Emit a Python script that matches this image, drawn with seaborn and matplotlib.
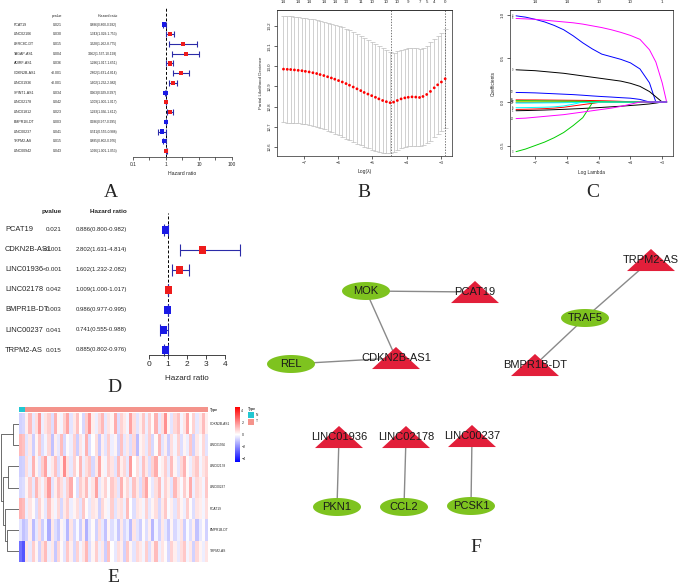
import numpy as np
import pandas as pd
import matplotlib
matplotlib.use("Agg")
import matplotlib.pyplot as plt
import seaborn as sns
from matplotlib.colors import LinearSegmentedColormap, ListedColormap
from matplotlib.patches import Rectangle
from matplotlib.path import Path
from matplotlib.transforms import blended_transform_factory

W, H = 679, 585

# ── A: univariate cox ──
a_genes = ["PCAT19", "LINC02106", "LRRC8C-DT", "TAGAP-AS1", "ADIRF-AS1", "CDKN2B-AS1", "LINC01936",
           "SPINT1-AS1", "LINC02178", "LINC01812", "BMPR1B-DT", "LINC00237", "TRPM2-AS", "LINC00942"]
a_pvals = ["0.021", "0.030", "0.015", "0.004", "0.036", "<0.001", "<0.001",
           "0.034", "0.042", "0.023", "0.003", "0.041", "0.015", "0.043"]
a_hr = [0.886, 1.343, 3.328, 3.962, 1.296, 2.802, 1.602, 0.963, 1.009, 1.293, 0.986, 0.741, 0.885, 1.026]
a_lo = [0.800, 1.029, 1.262, 1.537, 1.017, 1.631, 1.232, 0.929, 1.000, 1.036, 0.977, 0.555, 0.802, 1.001]
a_hi = [0.982, 1.753, 8.775, 10.198, 1.651, 4.814, 2.082, 0.997, 1.017, 1.612, 0.995, 0.988, 0.976, 1.053]

# ── B: cv curve ──
b_loglam = [-7.60, -7.49, -7.39, -7.28, -7.17, -7.06, -6.96, -6.85, -6.74, -6.63, -6.53, -6.42, -6.31,
            -6.20, -6.10, -5.99, -5.88, -5.77, -5.67, -5.56, -5.45, -5.34, -5.24, -5.13, -5.02, -4.91,
            -4.81, -4.70, -4.59, -4.48, -4.38, -4.27, -4.16, -4.05, -3.95, -3.84, -3.73, -3.62, -3.52,
            -3.41, -3.30, -3.19, -3.09, -2.98, -2.87]
b_dev = [12.986, 12.985, 12.984, 12.982, 12.980, 12.978, 12.975, 12.972, 12.968, 12.964, 12.959,
         12.954, 12.948, 12.942, 12.936, 12.929, 12.922, 12.914, 12.906, 12.897, 12.888, 12.879,
         12.870, 12.862, 12.854, 12.846, 12.838, 12.830, 12.824, 12.819, 12.822, 12.830, 12.838,
         12.843, 12.846, 12.848, 12.847, 12.845, 12.850, 12.860, 12.875, 12.893, 12.908, 12.922, 12.938]
b_se = [0.265, 0.265, 0.265, 0.264, 0.264, 0.263, 0.263,
        0.264, 0.265, 0.266, 0.267, 0.268, 0.269, 0.270, 0.271,
        0.272, 0.272, 0.273, 0.273, 0.273, 0.272, 0.272, 0.271, 0.270, 0.268,
        0.266, 0.263, 0.259, 0.255, 0.250, 0.246, 0.245, 0.245, 0.244,
        0.244, 0.244, 0.243, 0.243, 0.243, 0.243, 0.244, 0.245, 0.245, 0.246, 0.247]
b_top_idx = [0, 4, 7, 11, 14, 17, 21, 24, 28, 31, 34, 37, 39, 41, 44]
b_top_df = [14, 14, 14, 14, 14, 13, 11, 10, 10, 10, 9, 7, 5, 4, 0]
b_lam_min, b_lam_1se = -4.45, -2.87

# ── C: coefficient paths ──
c_loglam = [-7.6, -7.3, -7.0, -6.7, -6.4, -6.1, -5.8, -5.5, -5.2, -4.9, -4.6, -4.3, -4.0, -3.7, -3.4, -3.2, -3.0, -2.86]
c_coef = {
    1: [-0.10, -0.098, -0.095, -0.092, -0.088, -0.084, -0.079, -0.074, -0.068, -0.062, -0.055, -0.048, -0.040, -0.032, -0.022, -0.012, 0, 0],
    2: [-0.085, -0.083, -0.080, -0.076, -0.070, -0.060, -0.045, -0.030, -0.015, 0, 0, 0, 0, 0, 0, 0, 0, 0],
    3: [-0.57, -0.54, -0.50, -0.46, -0.41, -0.35, -0.27, -0.18, -0.01, 0, 0, 0, 0, 0, 0, 0, 0, 0],
    4: [0.99, 0.975, 0.95, 0.92, 0.88, 0.83, 0.76, 0.68, 0.61, 0.55, 0.52, 0.49, 0.45, 0.38, 0.22, 0, 0, 0],
    5: [-0.065, -0.064, -0.062, -0.060, -0.055, -0.045, -0.025, 0, 0, 0, 0, 0, 0, 0, 0, 0, 0, 0],
    6: [0.96, 0.955, 0.95, 0.94, 0.93, 0.92, 0.91, 0.895, 0.875, 0.855, 0.83, 0.80, 0.765, 0.72, 0.60, 0.46, 0.22, 0],
    7: [0.005, 0.005, 0.004, 0.004, 0.003, 0.003, 0.002, 0.001, 0, 0, 0, 0, 0, 0, 0, 0, 0, 0],
    8: [-0.004, -0.004, -0.004, -0.003, -0.003, -0.002, -0.002, -0.001, 0, 0, 0, 0, 0, 0, 0, 0, 0, 0],
    9: [0.37, 0.365, 0.36, 0.35, 0.34, 0.33, 0.315, 0.30, 0.285, 0.27, 0.255, 0.24, 0.215, 0.18, 0.12, 0.06, 0, 0],
    10: [0.025, 0.024, 0.024, 0.023, 0.022, 0.021, 0.020, 0.019, 0.017, 0.015, 0.012, 0.008, 0.004, 0, 0, 0, 0, 0],
    11: [0.015, 0.015, 0.014, 0.013, 0.012, 0.011, 0.010, 0.008, 0.006, 0.004, 0.002, 0.001, 0, 0, 0, 0, 0, 0],
    12: [0.11, 0.108, 0.105, 0.10, 0.095, 0.09, 0.085, 0.078, 0.07, 0.063, 0.057, 0.05, 0.044, 0.03, 0, 0, 0, 0],
    13: [-0.012, -0.012, -0.011, -0.010, -0.009, -0.008, -0.006, -0.004, -0.002, 0, 0, 0, 0, 0, 0, 0, 0, 0],
    14: [-0.19, -0.185, -0.175, -0.165, -0.155, -0.145, -0.13, -0.115, -0.10, -0.085, -0.07, -0.05, -0.025, 0, 0, 0, 0, 0],
}
c_top_x = [-7, -6, -5, -4, -3]
c_top_df = [14, 14, 10, 10, 1]
r_palette = ["black", "red", "#00CD00", "blue", "cyan", "magenta", "#E8E800", "gray"]

# ── D: multivariate cox ──
d_genes = ["PCAT19", "CDKN2B-AS1", "LINC01936", "LINC02178", "BMPR1B-DT", "LINC00237", "TRPM2-AS"]
d_pvals = ["0.021", "<0.001", "<0.001", "0.042", "0.003", "0.041", "0.015"]
d_hr = [0.886, 2.802, 1.602, 1.009, 0.986, 0.741, 0.885]
d_lo = [0.800, 1.631, 1.232, 1.000, 0.977, 0.555, 0.802]
d_hi = [0.982, 4.814, 2.082, 1.017, 0.995, 0.988, 0.976]

# ── E: heatmap ──
e_rows = ["CDKN2B-AS1", "LINC01936", "LINC02178", "LINC00237", "PCAT19", "BMPR1B-DT", "TRPM2-AS"]
e_types = ["N"] * 2 + ["T"] * 58
e_values = [
    [-0.8, -0.7, 0.3, 1.2, -0.4, 0.6, 1.8, -0.3, 0.5, 0.9, -0.6, 1.4, 0.2, -0.2, 0.8, 1.6, -0.5, 0.4, 1.1, 0.0,
     -0.7, 0.9, 1.9, 0.3, -0.3, 0.7, 1.3, -0.4, 0.5, 0.2, 1.5, -0.6, 0.8, 0.4, -0.2, 1.7, 0.6, -0.5, 0.3, 1.0,
     -0.3, 0.9, 0.1, 1.4, -0.4, 0.6, 2.0, 0.2, -0.5, 0.7, 1.1, -0.2, 0.5, 1.6, 0.0, 0.8, -0.4, 0.4, 1.2, 0.3],
    [1.3, 1.1, -0.5, 0.4, -0.9, 0.2, 1.0, -0.6, -0.2, 0.7, -1.1, 0.3, -0.4, 1.2, -0.7, 0.1, -0.3, 0.8, -0.9, 0.5,
     -0.2, 1.4, -0.6, 0.0, 0.6, -1.0, 0.3, -0.5, 0.9, -0.3, 0.2, -0.8, 1.1, -0.4, 0.4, -0.6, 0.7, -1.2, 0.2, 0.5,
     -0.4, 0.9, -0.7, 0.1, 1.3, -0.5, 0.3, -0.9, 0.6, -0.2, 0.8, -0.6, 0.2, -0.3, 1.0, -0.8, 0.4, -0.1, 0.7, -0.5],
    [-0.9, -0.8, 0.6, -0.3, 1.4, 0.2, -0.5, 0.9, 1.7, -0.2, 0.4, 1.1, -0.6, 0.3, 2.1, 0.5, -0.4, 0.8, 0.1, 1.3,
     -0.3, 0.6, 1.0, -0.7, 0.4, 1.6, 0.2, -0.2, 0.9, 0.5, -0.5, 1.2, 0.3, 0.7, -0.4, 1.8, 0.0, 0.6, -0.3, 1.1,
     0.4, -0.6, 0.8, 1.5, -0.1, 0.3, 0.9, -0.4, 1.2, 0.2, -0.5, 0.7, 1.4, 0.1, -0.3, 0.6, 1.0, -0.2, 0.5, 0.8],
    [-0.7, -0.6, 0.2, 0.9, -0.4, 1.3, 0.5, -0.2, 0.7, 1.8, -0.5, 0.3, 1.1, 0.6, -0.3, 0.8, 1.5, 0.0, -0.6, 0.9,
     0.4, 1.2, -0.2, 0.5, 1.7, -0.4, 0.3, 0.8, -0.1, 1.0, 0.6, -0.5, 1.4, 0.2, 0.7, -0.3, 1.1, 0.4, -0.6, 0.9,
     1.6, 0.1, -0.4, 0.6, 1.2, -0.2, 0.8, 0.3, -0.5, 1.3, 0.5, -0.1, 0.9, 0.2, 1.5, -0.3, 0.7, 0.4, -0.2, 1.0],
    [1.4, 1.2, -0.3, 0.5, 0.1, -0.6, 0.8, 0.2, -0.4, 1.1, 0.3, -0.2, 0.7, -0.7, 0.4, 0.9, -0.3, 0.2, 0.6, -0.5,
     1.0, 0.1, -0.4, 0.5, 0.3, -0.8, 0.7, 0.2, -0.2, 0.9, -0.5, 0.4, 0.6, -0.3, 1.2, 0.0, -0.6, 0.5, 0.3, -0.2,
     0.8, -0.4, 0.2, 0.6, -0.7, 0.4, 1.0, -0.1, 0.3, -0.5, 0.7, 0.2, -0.3, 0.9, 0.1, -0.6, 0.5, 0.3, -0.2, 0.6],
    [-0.5, -1.1, -0.8, 0.3, -1.2, -0.4, 0.6, -0.9, -0.2, -1.5, 0.4, -0.6, -1.0, 0.2, -0.3, -1.3, 0.5, -0.7, -0.1, -0.9,
     0.3, -1.4, -0.5, 0.1, -0.8, 0.6, -0.4, -1.1, 0.2, -0.6, -0.2, -1.0, 0.4, -0.7, -0.3, -1.2, 0.5, -0.5, -0.9, 0.1,
     -0.6, 0.3, -1.3, -0.2, -0.8, 0.4, -0.4, -1.0, 0.2, -0.7, -0.3, 0.5, -0.9, -0.1, -0.6, 0.3, -1.1, -0.4, 0.1, -0.8],
    [-2.6, -3.1, 0.5, -0.4, 0.9, 0.2, -0.8, 0.6, 1.2, -0.3, 0.4, -1.0, 0.7, 0.1, -0.5, 1.0, 0.3, -0.7, 0.8, -0.2,
     0.5, 1.3, -0.6, 0.2, 0.9, -0.3, 0.4, -0.9, 1.1, 0.0, -0.4, 0.6, 0.3, -0.8, 1.0, 0.2, -0.5, 0.7, 0.4, -0.2,
     0.9, -0.6, 0.3, 1.2, -0.3, 0.5, 0.1, -0.7, 0.8, 0.3, -0.4, 0.6, 1.0, -0.2, 0.4, -0.8, 0.7, 0.2, -0.3, 0.5],
]
# row clustering: (left, right, height), leaves 0..6, new clusters numbered from 7
e_merges = [(0, 1, 5.7), (2, 3, 11.0), (5, 6, 12.0), (4, 9, 14.5), (8, 10, 15.7), (7, 11, 18.3)]

# ── F: lncRNA - mRNA network ──
f_lnc = ["PCAT19", "CDKN2B-AS1", "TRPM2-AS", "BMPR1B-DT", "LINC01936", "LINC02178", "LINC00237"]
f_mrna = ["MOK", "REL", "TRAF5", "PKN1", "CCL2", "PCSK1"]
f_edges = [("MOK", "PCAT19"), ("MOK", "CDKN2B-AS1"), ("REL", "CDKN2B-AS1"),
           ("TRAF5", "TRPM2-AS"), ("TRAF5", "BMPR1B-DT"),
           ("LINC01936", "PKN1"), ("LINC02178", "CCL2"), ("LINC00237", "PCSK1")]
# cytoscape layout (pixel positions)
f_layout = {"MOK": (366, 291), "PCAT19": (475, 292), "REL": (291, 364), "CDKN2B-AS1": (396, 358),
            "TRAF5": (585, 318), "TRPM2-AS": (651, 260), "BMPR1B-DT": (535, 365),
            "LINC01936": (339, 437), "LINC02178": (406, 437), "LINC00237": (472, 436),
            "PKN1": (337, 507), "CCL2": (404, 507), "PCSK1": (471, 506)}

RED = "#EE1C1C"
BLUE = "#1A1AE6"
NAVY = "#2B2BA8"

sns.set_style("ticks")
plt.rcParams["font.family"] = ["Liberation Sans", "DejaVu Sans"]
plt.rcParams["axes.linewidth"] = 0.5

fig = plt.figure(figsize=(W / 100, H / 100), dpi=100)


def px_box(x0, y0, x1, y1):
    return [x0 / W, 1 - y1 / H, (x1 - x0) / W, (y1 - y0) / H]


def forest(ax, genes, pvals, hr, lo, hi, cols, fs, msize, cap, head_y, bold_head):
    n = len(genes)
    df = pd.DataFrame({"gene": genes, "hr": hr, "lo": lo, "hi": hi, "y": np.arange(n)[::-1]})
    df["risk"] = np.where(df["hr"] > 1, "high", "low")
    ax.errorbar(df["hr"], df["y"], xerr=[df["hr"] - df["lo"], df["hi"] - df["hr"]], fmt="none",
                ecolor=NAVY, elinewidth=0.8, capsize=cap, capthick=0.8, clip_on=False, zorder=2)
    sns.scatterplot(data=df, x="hr", y="y", hue="risk", palette={"high": RED, "low": BLUE},
                    marker="s", s=msize, edgecolor="none", legend=False, ax=ax, zorder=3, clip_on=False)
    ax.axvline(1, ls=(0, (3, 2)), color="black", lw=0.7, zorder=1)
    sns.despine(ax=ax, left=True)
    ax.set_yticks([])
    ax.set_ylabel("")
    tr = blended_transform_factory(fig.transFigure, ax.transData)
    fw = "bold" if bold_head else "normal"
    ax.text(cols[1] / W, head_y, "pvalue", transform=tr, ha="right", va="center", fontsize=fs[3], fontweight=fw)
    ax.text(cols[2] / W, head_y, "Hazard ratio", transform=tr, ha="right", va="center", fontsize=fs[3], fontweight=fw)
    for _, r in df.iterrows():
        i = n - 1 - int(r["y"])
        ax.text(cols[0] / W, r["y"], genes[i], transform=tr, ha="left", va="center", fontsize=fs[0])
        ax.text(cols[1] / W, r["y"], pvals[i], transform=tr, ha="right", va="center", fontsize=fs[1])
        ax.text(cols[2] / W, r["y"], "%.3f(%.3f-%.3f)" % (hr[i], lo[i], hi[i]), transform=tr,
                ha="right", va="center", fontsize=fs[2])


# ---- A ----
ax_a = fig.add_axes(px_box(133, 8, 232, 157))
forest(ax_a, a_genes, a_pvals, a_hr, a_lo, a_hi, (14, 62, 117), (2.6, 2.5, 2.3, 2.5), 9, 2.2, 13.92, False)
ax_a.set_xscale("log")
ax_a.set_xlim(0.1, 100)
ax_a.set_ylim(-0.62, 14.7)
ax_a.set_xticks([0.1, 1, 10, 100], ["0.1", "1", "10", "100"])
ax_a.set_xticks([0.3, 3, 30], minor=True)
ax_a.tick_params(axis="x", which="both", labelsize=3.5, length=2, width=0.5, pad=1.5)
ax_a.set_xlabel("Hazard ratio", fontsize=3.7, labelpad=3)

# ---- B ----
ax_b = fig.add_axes(px_box(277, 10, 452, 156))
ax_b.errorbar(b_loglam, b_dev, yerr=b_se, fmt="none", ecolor="#BDBDBD", elinewidth=0.5, capsize=1.8, capthick=0.5)
sns.scatterplot(x=b_loglam, y=b_dev, color="red", s=4, edgecolor="none", ax=ax_b, zorder=3)
ax_b.axvline(b_lam_min, ls=(0, (2, 2)), color="#444444", lw=0.5)
ax_b.axvline(b_lam_1se, ls=(0, (2, 2)), color="#444444", lw=0.5)
ax_b.set_xlim(-7.79, -2.67)
ax_b.set_ylim(12.554, 13.28)
ax_b.set_xticks([-7, -6, -5, -4, -3])
ax_b.set_yticks([12.6, 12.7, 12.8, 12.9, 13.0, 13.1, 13.2])
ax_b.tick_params(labelsize=3.2, length=2, width=0.5, pad=1.5)
for t in ax_b.get_yticklabels():
    t.set_rotation(90)
    t.set_va("center")
ax_b.set_xlabel("Log(λ)", fontsize=3.6, labelpad=3)
ax_b.set_ylabel("Partial Likelihood Deviance", fontsize=3.2, labelpad=4)
top_b = ax_b.secondary_xaxis("top")
top_b.set_xticks([b_loglam[i] for i in b_top_idx], [str(d) for d in b_top_df])
top_b.tick_params(labelsize=3.2, length=0, pad=4)

# ---- C ----
ax_c = fig.add_axes(px_box(510, 10, 673, 156))
for k, ys in c_coef.items():
    sns.lineplot(x=c_loglam, y=ys, color=r_palette[(k - 1) % 8], lw=0.7, ax=ax_c)
    ax_c.text(-7.68, ys[0], str(k), fontsize=1.8, ha="right", va="center")
ax_c.set_xlim(-7.79, -2.66)
ax_c.set_ylim(-0.62, 1.057)
ax_c.set_xticks([-7, -6, -5, -4, -3])
ax_c.set_yticks([-0.5, 0.0, 0.5, 1.0], ["-0.5", "0.0", "0.5", "1.0"])
ax_c.tick_params(labelsize=3.2, length=2, width=0.5, pad=1.5)
for t in ax_c.get_yticklabels():
    t.set_rotation(90)
    t.set_va("center")
ax_c.set_xlabel("Log Lambda", fontsize=3.4, labelpad=4)
ax_c.set_ylabel("Coefficients", fontsize=3.4, labelpad=4)
top_c = ax_c.secondary_xaxis("top")
top_c.set_xticks(c_top_x, [str(d) for d in c_top_df])
top_c.tick_params(labelsize=3.2, length=0, pad=4)

# ---- D ----
ax_d = fig.add_axes(px_box(149, 213, 225, 355))
forest(ax_d, d_genes, d_pvals, d_hr, d_lo, d_hi, (5, 62, 127), (5.4, 4.5, 4.3, 4.6), 26, 4.5, 6.9, True)
ax_d.set_xlim(0, 4)
ax_d.set_ylim(-0.25, 6.85)
ax_d.set_xticks([0, 1, 2, 3, 4])
ax_d.tick_params(axis="x", labelsize=6, length=3, width=0.6, pad=1.5)
ax_d.spines["bottom"].set_linewidth(0.6)
ax_d.set_xlabel("Hazard ratio", fontsize=5.8, labelpad=5)

# ---- E ----
cmap = LinearSegmentedColormap.from_list("bwr_ph", ["#0000FF", "#FFFFFF", "#FF0000"])
mat = pd.DataFrame(e_values, index=e_rows)
ax_e = fig.add_axes(px_box(19, 413, 208, 562))
ax_cb = fig.add_axes(px_box(235, 407, 240, 462))
sns.heatmap(mat, ax=ax_e, cmap=cmap, vmin=-4.65, vmax=4.65, cbar_ax=ax_cb,
            xticklabels=False, yticklabels=False)
cbar = ax_e.collections[0].colorbar
cbar.set_ticks([-4, -2, 0, 2, 4])
cbar.ax.tick_params(labelsize=2.6, length=0, pad=1)
cbar.outline.set_visible(False)

ax_t = fig.add_axes(px_box(19, 407, 208, 412))
type_code = [[0 if t == "N" else 1 for t in e_types]]
sns.heatmap(type_code, ax=ax_t, cmap=ListedColormap(["#22C7D1", "#F4938B"]), vmin=0, vmax=1,
            cbar=False, xticklabels=False, yticklabels=False)

tr_e = blended_transform_factory(fig.transFigure, ax_e.transData)
for i, g in enumerate(e_rows):
    ax_e.text(210 / W, i + 0.5, g, transform=tr_e, fontsize=2.3, va="center", ha="left")
fig.text(210 / W, 1 - 409.5 / H, "Type", fontsize=2.5, fontweight="bold", va="center")
fig.text(248 / W, 1 - 409 / H, "Type", fontsize=2.5, fontweight="bold", va="center")
for j, (lab, col) in enumerate([("N", "#22C7D1"), ("T", "#F4938B")]):
    y0 = 412 + j * 6.5
    fig.add_artist(Rectangle((248 / W, 1 - (y0 + 6) / H), 6 / W, 6 / H, transform=fig.transFigure,
                             facecolor=col, edgecolor="none"))
    fig.text(256 / W, 1 - (y0 + 3) / H, lab, fontsize=2.3, va="center")

# dendrogram
ax_den = fig.add_axes(px_box(0, 413, 19, 562))
pos = {i: (i + 0.5, 0.0) for i in range(len(e_rows))}
for k, (a, b, h) in enumerate(e_merges):
    ya, ha_ = pos[a]
    yb, hb = pos[b]
    ax_den.plot([ha_, h, h, hb], [ya, ya, yb, yb], color="#555555", lw=0.6)
    pos[len(e_rows) + k] = ((ya + yb) / 2, h)
ax_den.set_xlim(19, 0)
ax_den.set_ylim(len(e_rows), 0)
ax_den.axis("off")

# ---- F ----
ax_f = fig.add_axes(px_box(240, 240, 679, 585))
ax_f.set_xlim(240, 679)
ax_f.set_ylim(585, 240)
ax_f.axis("off")
for u, v in f_edges:
    (x1, y1), (x2, y2) = f_layout[u], f_layout[v]
    ax_f.plot([x1, x2], [y1, y2], color="#8A8A8A", lw=1.0, zorder=1)
t_ang = np.linspace(0, 2 * np.pi, 60)
ell_path = Path(np.column_stack([np.cos(t_ang), 0.375 * np.sin(t_ang)]))
tri_path = Path([(-1, -0.46), (1, -0.46), (0, 0.46), (-1, -0.46)], closed=True)
node_w = 48 * 72 / 100
mx = [f_layout[n][0] for n in f_mrna]
my = [f_layout[n][1] for n in f_mrna]
lx = [f_layout[n][0] for n in f_lnc]
ly = [f_layout[n][1] for n in f_lnc]
ax_f.scatter(mx, my, marker=ell_path, s=node_w ** 2, color="#7EC31F", edgecolor="none", zorder=2)
ax_f.scatter(lx, ly, marker=tri_path, s=node_w ** 2, color="#E21F3A", edgecolor="none", zorder=2)
for n in f_mrna + f_lnc:
    ax_f.text(f_layout[n][0], f_layout[n][1], n, fontsize=8, ha="center", va="center", color="#1A1A1A", zorder=3)

# panel letters
for lab, x, y in [("A", 111, 193), ("B", 364, 193), ("C", 593, 193),
                  ("D", 114, 387), ("E", 113, 578), ("F", 476, 547)]:
    fig.text(x / W, 1 - y / H, lab, fontsize=14, family="Liberation Serif", ha="center", va="center")

fig.savefig("out.png", dpi=100)
